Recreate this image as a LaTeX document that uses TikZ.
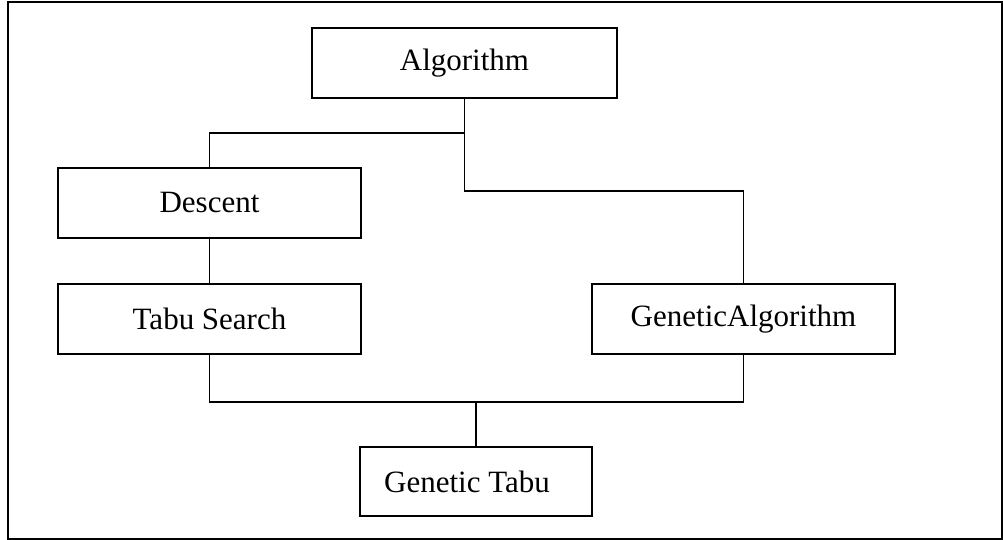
\documentclass[tikz,border=0pt]{standalone}
\usepackage{fontspec}
\setmainfont{Liberation Serif}
\begin{document}
\begin{tikzpicture}[x=1pt,y=-1pt, line width=1.6pt,
  link/.style={draw, line width=1.6pt},
  boxnode/.style={draw, line width=1.6pt, inner sep=0pt, minimum height=70pt,
    font=\fontsize{31}{37}\selectfont}]
\useasboundingbox (0,0) rectangle (1003,540);
\draw[link] (8,2) rectangle (1002,539);
\node[boxnode, minimum width=305pt] (alg) at (464.5,63) {Algorithm};
\node[boxnode, minimum width=303pt] (desc) at (209.5,203) {Descent};
\node[boxnode, minimum width=303pt] (tabu) at (209.5,319) {Tabu Search};
\node[boxnode, minimum width=303pt] (ga) at (743.5,319) {GeneticAlgorithm};
\node[boxnode, minimum width=232pt, minimum height=69pt] (gt) at (476,481.5) {\hspace*{-18pt}Genetic Tabu};
\draw[link] (alg.south) -- ++(0,34) -| (desc.north);
\draw[link] (alg.south) -- ++(0,92) -| (ga.north);
\draw[link] (desc.south) -- (tabu.north);
\draw[link] (tabu.south) -- ++(0,47) -| (gt.north);
\draw[link] (ga.south) -- ++(0,47) -| (gt.north);
\end{tikzpicture}
\end{document}
